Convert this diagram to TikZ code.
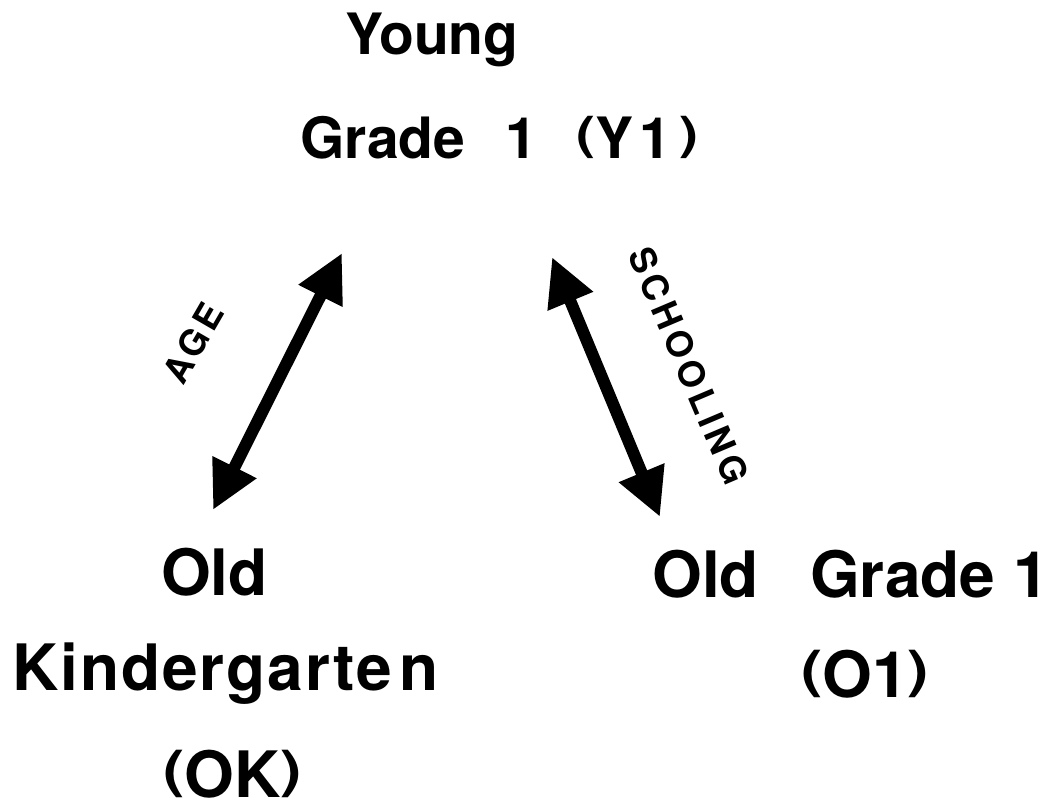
\documentclass[tikz,border=0pt]{standalone}
\usepackage{fontspec}
\setmainfont{TeX Gyre Heros}
\usepackage{graphicx}
\usetikzlibrary{arrows.meta}
\newcommand{\lpar}{\raisebox{0.15em}{\scalebox{1}[0.8]{(}}}
\newcommand{\rpar}{\raisebox{0.15em}{\scalebox{1}[0.8]{)}}}
\begin{document}
\begin{tikzpicture}[x=1pt,y=-1pt,
  lbl/.style={inner sep=0pt, anchor=base west, font=\bfseries\fontsize{57}{60}\selectfont},
  lblb/.style={inner sep=0pt, anchor=base west, font=\bfseries\fontsize{64}{68}\selectfont},
  rot/.style={inner sep=0pt, font=\bfseries\fontsize{36}{38}\selectfont\addfontfeature{LetterSpace=12}},
  dbl/.style={line width=12pt, {Triangle[length=48pt,width=46pt]}-{Triangle[length=48pt,width=46pt]}}
]
\useasboundingbox (0,0) rectangle (1051,808);
\node[lbl] (young) at (345,55) {Young};
\node[lbl] (y1) at (300,158) {Grade\hspace{0.7em}1\hspace{0.7em}\lpar Y\kern0.1em 1\kern0.15em\rpar};
\node[lblb] (oldk) at (161,595) {Old};
\node[lblb] (kg) at (12,690) {\addfontfeature{LetterSpace=3}Kindergarte\kern0.12em n};
\node[lblb] (ok) at (163,797) {\lpar OK\rpar};
\node[lblb] (old1) at (652,597) {Old\hspace{0.8em}Grade 1};
\node[lblb] (o1) at (801,697) {\lpar O1\rpar};
\coordinate (a1) at (342,253);
\coordinate (a2) at (213,510);
\coordinate (b1) at (552,257);
\coordinate (b2) at (660,517);
\draw[dbl] (a2) -- (a1);
\draw[dbl] (b1) -- (b2);
\node[rot, rotate=60] (age) at (193,343) {AGE};
\node[rot, rotate=-67] (sch) at (689,366) {SCHOOLING};
\end{tikzpicture}
\end{document}
